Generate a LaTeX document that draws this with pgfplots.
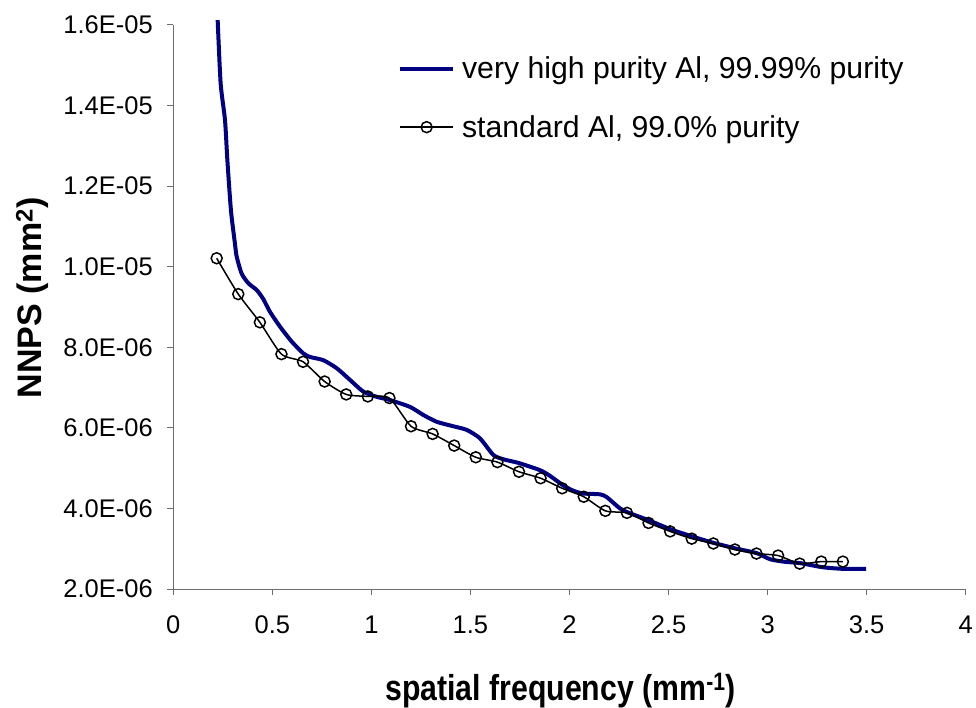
\documentclass[border=0pt]{standalone}
\usepackage{fontspec}
\setmainfont{Liberation Sans}
\newfontfamily\xlabfont[FakeStretch=0.84]{Liberation Sans}
\usepackage{pgfplots}
\pgfplotsset{compat=1.18}
\definecolor{navy}{RGB}{0,0,128}
\definecolor{axgray}{RGB}{110,110,110}
\begin{document}
\begin{tikzpicture}
\useasboundingbox (-173.3pt,-118pt) rectangle (802.7pt,589pt);
\begin{axis}[
  at={(0,0)}, anchor=south west,
  scale only axis, width=792.4pt, height=564pt,
  xmin=0, xmax=4, ymin=2e-6, ymax=1.6e-5,
  axis x line=bottom, axis y line=left,
  axis line style={-, axgray, line width=1pt},
  clip=false,
  xtick={0,0.5,...,4},
  ytick={2e-6,4e-6,6e-6,8e-6,1e-5,1.2e-5,1.4e-5,1.6e-5},
  yticklabels={2.0E-06,4.0E-06,6.0E-06,8.0E-06,1.0E-05,1.2E-05,1.4E-05,1.6E-05},
  scaled y ticks=false,
  /pgf/number format/assume math mode=true,
  tick align=outside, major tick length=6pt,
  tick style={axgray, line width=1pt},
  ticklabel style={font=\fontsize{25.5}{30}\selectfont},
  xticklabel style={yshift=-17pt},
  yticklabel style={xshift=-11pt},
  xlabel={\xlabfont\bfseries\fontsize{36}{40}\selectfont spatial frequency (mm\textsuperscript{-1})},
  ylabel={\bfseries\fontsize{34}{40}\selectfont NNPS (mm\textsuperscript{2})},
  every axis x label/.style={at={(axis description cs:0.5,0)}, anchor=base, yshift=-111pt, xshift=-9pt},
  every axis y label/.style={at={(axis description cs:0,0.5)}, rotate=90, anchor=center, yshift=141pt, xshift=9pt},
  legend cell align=left,
  legend style={draw=none, fill=none, inner sep=0pt, at={(axis description cs:0.2835,0.947)}, anchor=north west,
    font=\fontsize{30.2}{34}\selectfont, row sep=31pt},
  legend image code/.code={\draw[mark repeat=2,mark phase=2,#1] plot coordinates {(0pt,0pt) (26.5pt,0pt) (53pt,0pt)};},
]
\addplot[navy, line width=4pt, smooth, tension=0.4, no markers] coordinates {
(0.224,16.12e-6) (0.239,14.55e-6) (0.261,13.64e-6) (0.273,12.64e-6) (0.291,11.40e-6)
(0.311,10.58e-6) (0.320,10.25e-6) (0.345,9.83e-6) (0.379,9.59e-6) (0.421,9.42e-6)
(0.454,9.20e-6) (0.488,8.88e-6) (0.539,8.51e-6) (0.598,8.14e-6) (0.656,7.85e-6)
(0.690,7.76e-6) (0.757,7.68e-6) (0.825,7.48e-6) (0.892,7.19e-6) (0.959,6.90e-6)
(1.027,6.77e-6) (1.094,6.69e-6) (1.195,6.52e-6) (1.262,6.32e-6) (1.330,6.15e-6)
(1.413,6.04e-6) (1.481,5.95e-6) (1.548,5.74e-6) (1.615,5.33e-6) (1.666,5.22e-6)
(1.742,5.13e-6) (1.851,4.95e-6) (1.901,4.81e-6) (1.966,4.58e-6) (2.019,4.44e-6)
(2.070,4.37e-6) (2.154,4.35e-6) (2.188,4.28e-6) (2.255,4.00e-6) (2.305,3.88e-6)
(2.398,3.71e-6) (2.511,3.48e-6) (2.622,3.30e-6) (2.723,3.15e-6) (2.835,3.01e-6)
(2.945,2.89e-6) (3.012,2.74e-6) (3.079,2.68e-6) (3.167,2.64e-6) (3.278,2.54e-6)
(3.382,2.50e-6) (3.497,2.50e-6)
};
\addlegendentry{\hspace{5pt}very high purity Al, 99.99\% purity}
\addplot[black, line width=1.5pt, smooth, tension=0.4, mark=o, mark size=5.5pt,
  mark options={line width=1.5pt, fill=white}] coordinates {
(0.219,10.21e-6) (0.328,9.32e-6) (0.437,8.62e-6) (0.546,7.83e-6) (0.655,7.64e-6)
(0.764,7.15e-6) (0.873,6.83e-6) (0.982,6.78e-6) (1.091,6.74e-6) (1.200,6.04e-6)
(1.309,5.85e-6) (1.418,5.56e-6) (1.527,5.27e-6) (1.636,5.15e-6) (1.745,4.91e-6)
(1.854,4.75e-6) (1.963,4.50e-6) (2.072,4.29e-6) (2.181,3.94e-6) (2.290,3.89e-6)
(2.399,3.64e-6) (2.508,3.43e-6) (2.617,3.25e-6) (2.726,3.13e-6) (2.835,2.98e-6)
(2.944,2.88e-6) (3.053,2.83e-6) (3.162,2.63e-6) (3.271,2.68e-6) (3.380,2.68e-6)
};
\addlegendentry{\hspace{5pt}standard Al, 99.0\% purity}
\end{axis}
\end{tikzpicture}
\end{document}
